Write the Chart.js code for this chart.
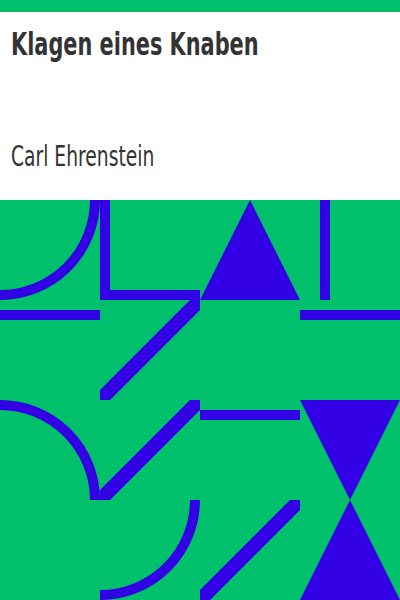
<!DOCTYPE html>
<html>
<head>
<meta charset="utf-8">
<script src="https://cdn.jsdelivr.net/npm/chart.js@4.4.1/dist/chart.umd.min.js"></script>
<style>
  html, body { margin: 0; padding: 0; background: #fff; }
  #cover { position: relative; width: 400px; height: 600px; overflow: hidden; background: #fff; }
  #band { position: absolute; left: 0; top: 0; width: 400px; height: 12px; background: #00c06b; }
  .txt {
    position: absolute; left: 11px; margin: 0; color: #333;
    font-family: "DejaVu Sans Condensed", "DejaVu Sans", sans-serif; font-stretch: condensed;
    white-space: nowrap; transform-origin: 0 0; transform: scaleY(1.35);
  }
  #title { top: 28.0px; font-size: 23.2px; line-height: 23.2px; font-weight: bold; }
  #author { top: 143.0px; font-size: 20.8px; line-height: 20.8px; font-weight: normal; }
  #pattern { position: absolute; left: 0; top: 200px; width: 400px; height: 400px; background: #00c06b; }
</style>
</head>
<body>
<div id="cover">
  <div id="band"></div>
  <div class="txt" id="title">Klagen eines Knaben</div>
  <div class="txt" id="author">Carl Ehrenstein</div>
  <div id="pattern"><canvas id="tiles"></canvas></div>
</div>
<script>
// page units, y grows downwards; the pattern covers x 0-400, y 200-600 in 100-unit tiles
const strokes = [
  [[105, 200], [105, 295], [200, 295]],
  [[325, 200], [325, 300]],
  [[0, 315], [100, 315]],
  [[300, 315], [400, 315]],
  [[200, 415], [300, 415]]
]
// corner-to-corner diagonals, each cut to its own tile
const diagonals = [
  [[200, 300], [100, 400]],
  [[200, 400], [100, 500]],
  [[300, 500], [200, 600]]
]
// quarter rings: centre and the top-left corner of the tile they show in
const ringCentres = [[0, 200], [0, 500], [100, 500]]
const ringTiles = [[0, 200], [0, 400], [100, 500]]
// solid triangles and the line each one fills to
const triangles = [
  [[200, 300], [250, 200], [300, 300]],
  [[300, 400], [350, 500], [400, 400]],
  [[300, 600], [350, 500], [400, 600]]
]
const triangleBases = [300, 400, 600]

const BLUE = "#3300e6"
const X_MIN = 0, X_MAX = 400, Y_MIN = 200, Y_MAX = 600, TILE = 100

const toPoints = path => path.map(([x, y]) => ({ x, y }))

// canvas is 400px for 400 units, so clip offsets are the same numbers
function tileClip(x0, y0) {
  return {
    left: -(x0 - X_MIN),
    right: -(X_MAX - x0 - TILE),
    top: -(y0 - Y_MIN),
    bottom: -(Y_MAX - y0 - TILE)
  }
}

const datasets = []

strokes.forEach(path => {
  datasets.push({
    data: toPoints(path),
    showLine: true,
    borderColor: BLUE,
    borderWidth: 10,
    borderCapStyle: "butt",
    borderJoinStyle: "miter",
    pointRadius: 0,
    fill: false
  })
})

diagonals.forEach(path => {
  const x0 = Math.min(path[0][0], path[1][0])
  const y0 = Math.min(path[0][1], path[1][1])
  datasets.push({
    data: toPoints(path),
    showLine: true,
    borderColor: BLUE,
    borderWidth: 10 * Math.SQRT2,
    borderCapStyle: "square",
    pointRadius: 0,
    fill: false,
    clip: tileClip(x0, y0)
  })
})

ringCentres.forEach(([x, y], i) => {
  datasets.push({
    data: [{ x, y }],
    showLine: false,
    pointStyle: "circle",
    pointRadius: 95,
    pointHoverRadius: 95,
    pointBorderWidth: 10,
    pointBorderColor: BLUE,
    pointBackgroundColor: "rgba(0,0,0,0)",
    clip: tileClip(ringTiles[i][0], ringTiles[i][1])
  })
})

triangles.forEach((path, i) => {
  datasets.push({
    data: toPoints(path),
    showLine: true,
    borderWidth: 0,
    borderColor: "rgba(0,0,0,0)",
    backgroundColor: BLUE,
    pointRadius: 0,
    fill: { value: triangleBases[i] }
  })
})

new Chart(document.getElementById("tiles"), {
  type: "scatter",
  data: { datasets },
  options: {
    responsive: true,
    maintainAspectRatio: false,
    animation: false,
    events: [],
    layout: { padding: 0, autoPadding: false },
    plugins: { legend: { display: false }, tooltip: { enabled: false } },
    scales: {
      x: { type: "linear", min: X_MIN, max: X_MAX, display: false },
      y: { type: "linear", min: Y_MIN, max: Y_MAX, reverse: true, display: false }
    }
  }
})
</script>
</body>
</html>
